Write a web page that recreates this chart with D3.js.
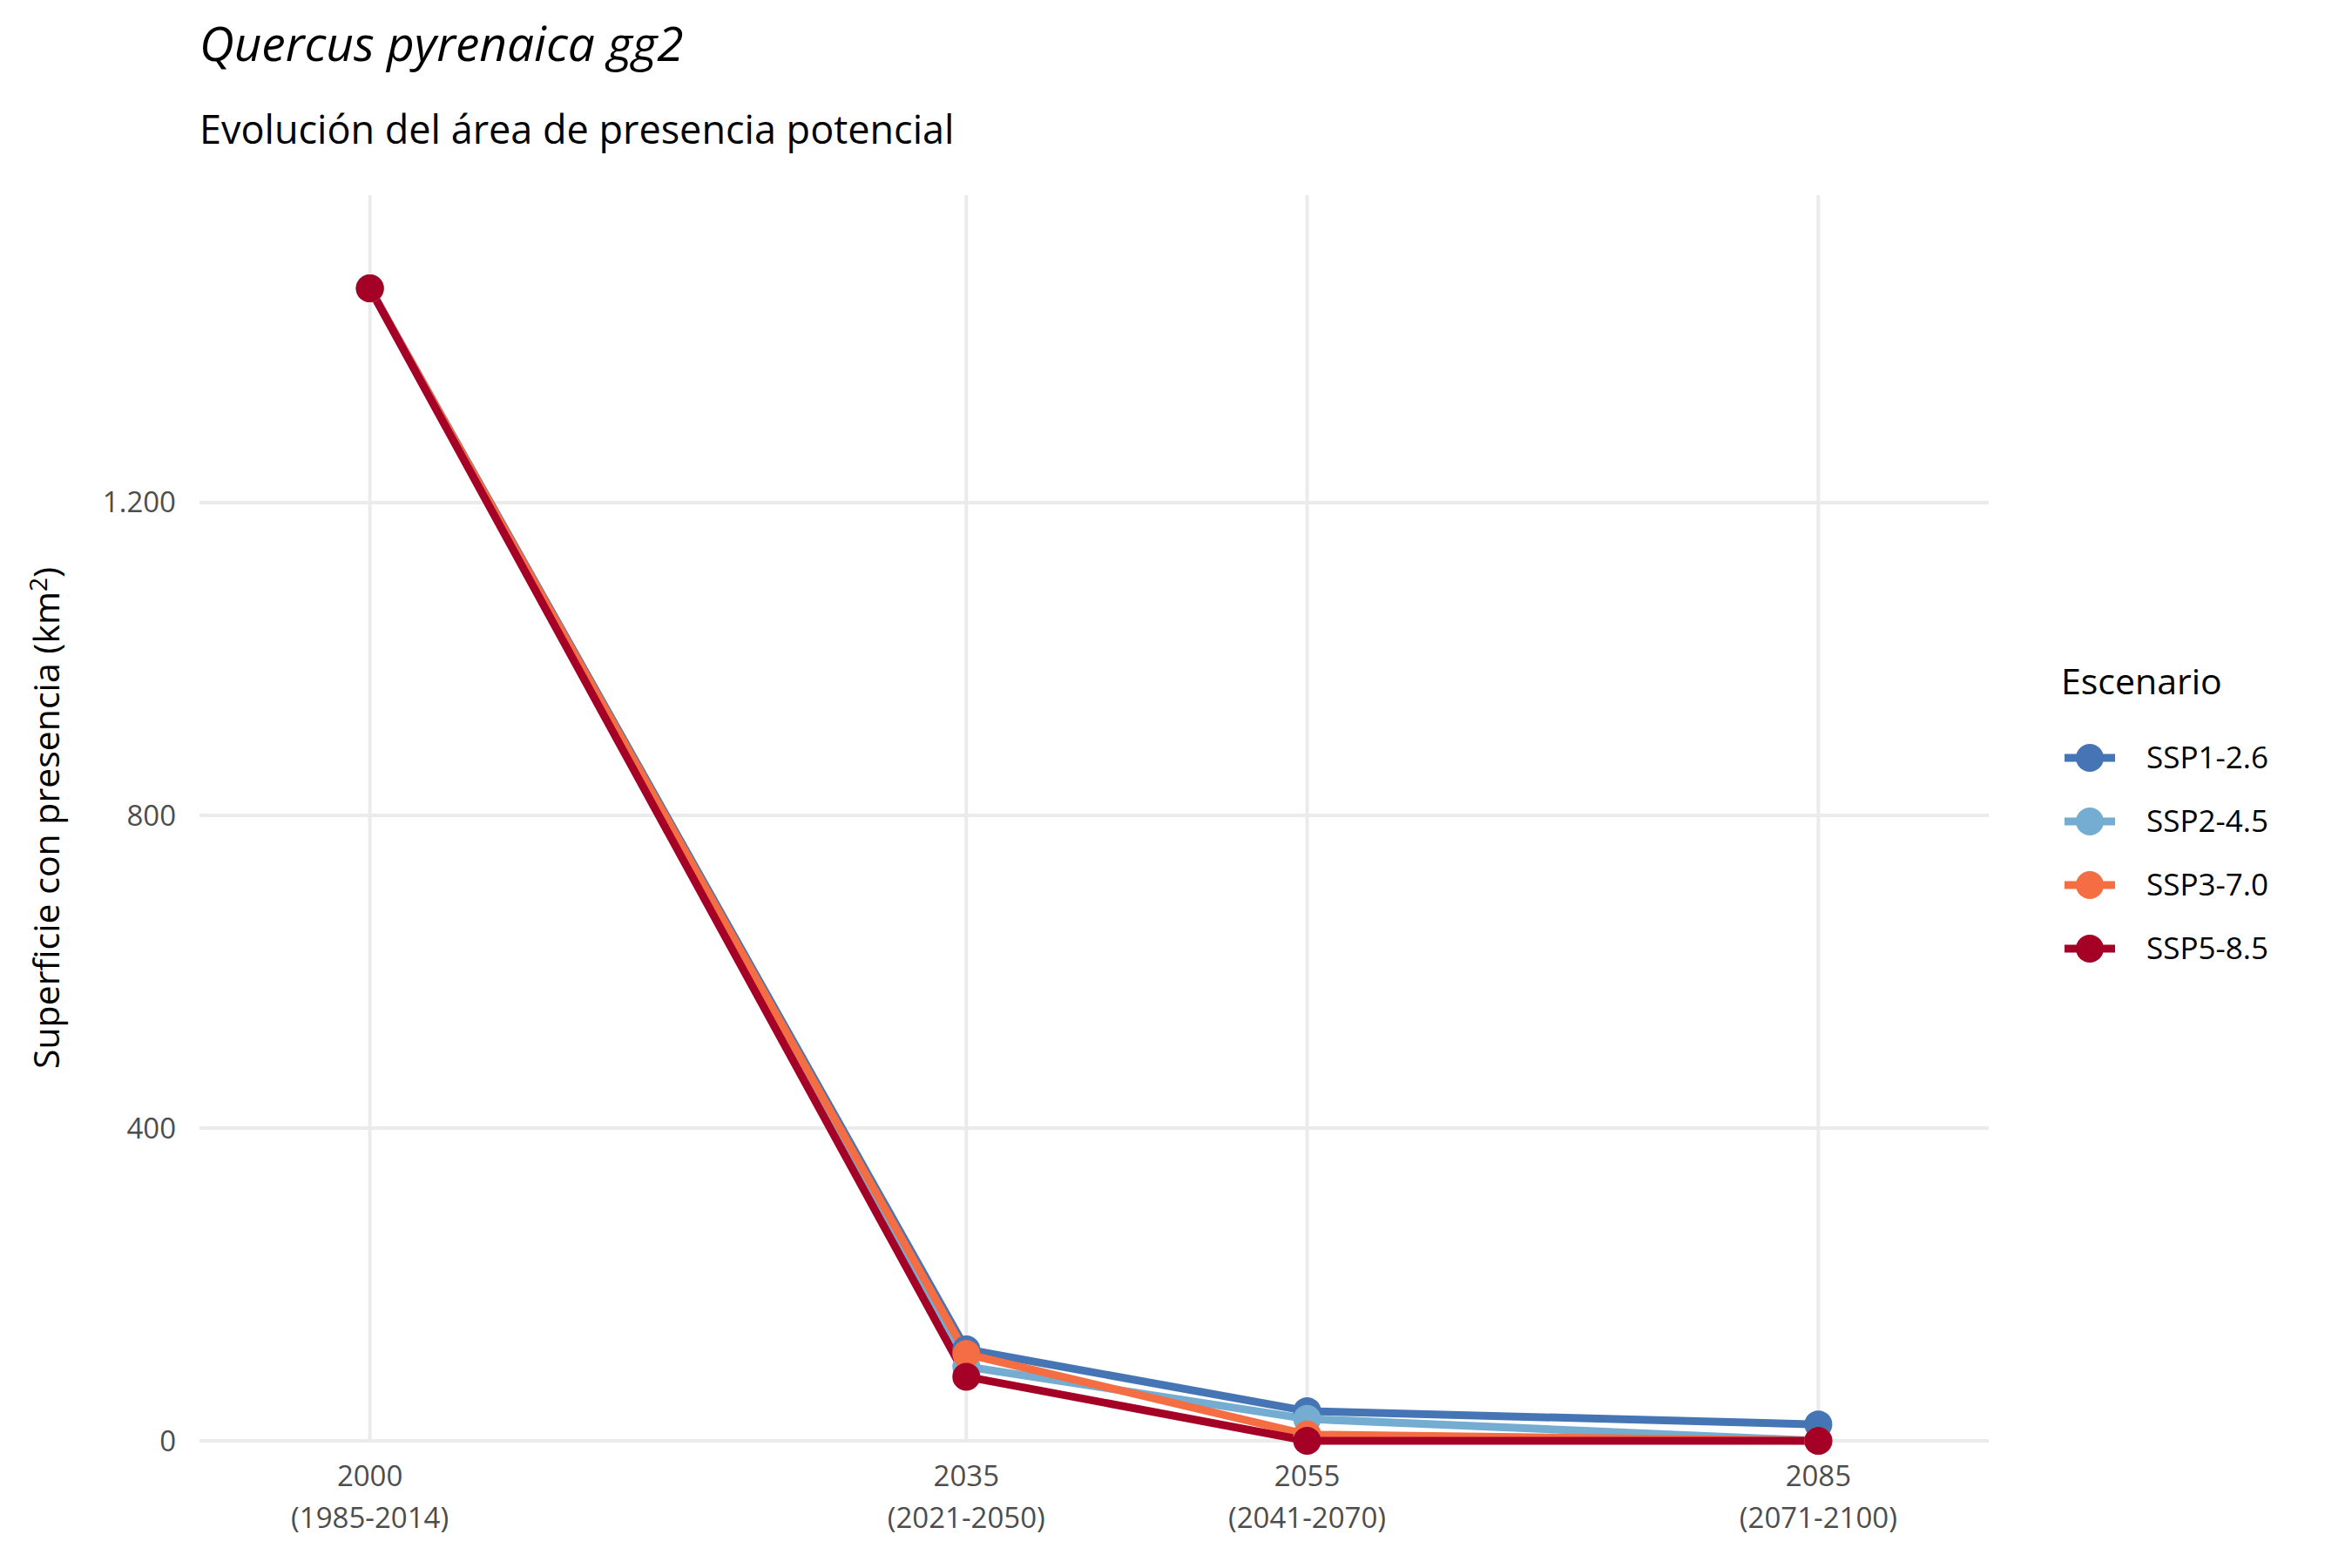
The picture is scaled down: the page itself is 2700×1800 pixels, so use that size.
<!DOCTYPE html>
<html><head><meta charset="utf-8">
<script src="https://cdn.jsdelivr.net/npm/d3@7"></script>
<style>body{margin:0;background:#fff}text{font-family:"Open Sans",sans-serif}</style>
</head><body>
<svg width="2700" height="1800"></svg>
<script>
const years = [2000, 2035, 2055, 2085];
const periods = ["(1985-2014)", "(2021-2050)", "(2041-2070)", "(2071-2100)"];
const scenarios = ["SSP1-2.6", "SSP2-4.5", "SSP3-7.0", "SSP5-8.5"];
const colors = ["#4575b4", "#74add1", "#f46d43", "#a50026"];
const ssp126 = [1474, 117, 38, 21];
const ssp245 = [1474, 95, 28, 0];
const ssp370 = [1474, 111, 8, 0];
const ssp585 = [1474, 82, 0, 0];
const series = [ssp126, ssp245, ssp370, ssp585];
const yTicks = [0, 400, 800, 1200];

const svg = d3.select("svg");
const x = d3.scaleLinear().domain([1990, 2095]).range([229, 2283]);
const y = d3.scaleLinear().domain([0, 1474]).range([1654, 331]);
const panelTop = 224;

// grid
svg.selectAll(".gy").data(yTicks).enter().append("line")
  .attr("x1", 229).attr("x2", 2283).attr("y1", d => y(d)).attr("y2", d => y(d))
  .attr("stroke", "#ebebeb").attr("stroke-width", 4);
svg.selectAll(".gx").data(years).enter().append("line")
  .attr("x1", d => x(d)).attr("x2", d => x(d)).attr("y1", panelTop).attr("y2", 1654)
  .attr("stroke", "#ebebeb").attr("stroke-width", 4);

// y labels
const fmt = d => d3.format(",")(d).replace(",", ".");
svg.selectAll(".ty").data(yTicks).enter().append("text")
  .attr("x", 202).attr("y", d => y(d)).attr("dy", "0.35em")
  .attr("text-anchor", "end").attr("font-size", 33).attr("fill", "#4d4d4d")
  .text(fmt);
// x labels
years.forEach((yr, i) => {
  const t = svg.append("text").attr("text-anchor", "middle").attr("font-size", 33).attr("fill", "#4d4d4d");
  t.append("tspan").attr("x", x(yr)).attr("y", 1706).text(yr);
  t.append("tspan").attr("x", x(yr)).attr("y", 1754).text(periods[i]);
});

// lines and points
const line = d3.line().x((d, i) => x(years[i])).y(d => y(d));
series.forEach((s, k) => {
  svg.append("path").datum(s).attr("d", line).attr("fill", "none")
    .attr("stroke", colors[k]).attr("stroke-width", 9).attr("stroke-linejoin", "round");
});
series.forEach((s, k) => {
  svg.selectAll(".p" + k).data(s).enter().append("circle")
    .attr("cx", (d, i) => x(years[i])).attr("cy", d => y(d)).attr("r", 16)
    .attr("fill", colors[k]);
});

// titles
svg.append("text").attr("x", 229).attr("y", 70).attr("font-size", 55)
  .attr("font-style", "italic").text("Quercus pyrenaica gg2");
svg.append("text").attr("x", 229).attr("y", 165).attr("font-size", 45)
  .text("Evolución del área de presencia potencial");
svg.append("text").attr("transform", "translate(68," + ((panelTop + 1654) / 2) + ") rotate(-90)")
  .attr("text-anchor", "middle").attr("font-size", 41)
  .html('Superficie con presencia (km<tspan dy="-14" font-size="28">2</tspan><tspan dy="14">)</tspan>');

// legend
svg.append("text").attr("x", 2366).attr("y", 797).attr("font-size", 41).text("Escenario");
scenarios.forEach((s, k) => {
  const cy = 870 + k * 73;
  svg.append("line").attr("x1", 2370).attr("x2", 2428).attr("y1", cy).attr("y2", cy)
    .attr("stroke", colors[k]).attr("stroke-width", 9);
  svg.append("circle").attr("cx", 2399).attr("cy", cy).attr("r", 16).attr("fill", colors[k]);
  svg.append("text").attr("x", 2464).attr("y", cy).attr("dy", "0.35em")
    .attr("font-size", 35).text(s);
});
</script>
</body></html>
